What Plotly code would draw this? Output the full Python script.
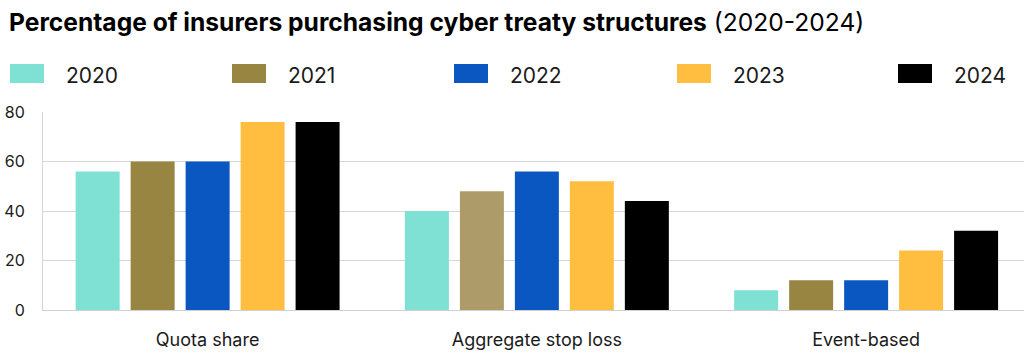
import plotly.graph_objects as go

# Chart data
categories = ["Quota share", "Aggregate stop loss", "Event-based"]
years = ["2020", "2021", "2022", "2023", "2024"]
values_2020 = [56, 40, 8]
values_2021 = [60, 48, 12]
values_2022 = [60, 56, 12]
values_2023 = [76, 52, 24]
values_2024 = [76, 44, 32]
y_ticks = [0, 20, 40, 60, 80]

series = [values_2020, values_2021, values_2022, values_2023, values_2024]
colors = ["#7FE1D3", "#978541", "#0A57C2", "#FFBE40", "#000000"]
# the 2021 aggregate stop loss bar is drawn in a lighter shade
bar_colors = [
    [colors[0]] * 3,
    [colors[1], "#AD9C6A", colors[1]],
    [colors[2]] * 3,
    [colors[3]] * 3,
    [colors[4]] * 3,
]

W, H = 1024, 352
L, R, T, B = 43, 0, 112, 42
plot_w = W - L - R
plot_h = H - T - B
FONT = "Inter, Roboto, sans-serif"
TEXT = "#1a1a1a"

fig = go.Figure()
for name, vals, cols in zip(years, series, bar_colors):
    fig.add_trace(go.Bar(x=categories, y=vals, name=name,
                         marker=dict(color=cols, line=dict(width=0)),
                         showlegend=False))

def px_x(px):
    return (px - L) / plot_w

def px_y(py):
    return (H - B - py) / plot_h

# Legend row: swatch + label for each year
shapes = []
annotations = []
legend_x = [10, 232, 454, 677, 898]
for name, col, lx in zip(years, colors, legend_x):
    shapes.append(dict(type="rect", xref="paper", yref="paper",
                       x0=px_x(lx), x1=px_x(lx + 34),
                       y0=px_y(83), y1=px_y(64),
                       fillcolor=col, line=dict(width=0)))
    annotations.append(dict(xref="paper", yref="paper",
                            x=px_x(lx + 54), y=px_y(75),
                            xanchor="left", yanchor="middle",
                            text=name, showarrow=False,
                            font=dict(family=FONT, size=21, color=TEXT)))

fig.update_layout(
    width=W, height=H,
    margin=dict(l=L, r=R, t=T, b=B),
    paper_bgcolor="white", plot_bgcolor="white",
    barmode="group", bargap=0.165, bargroupgap=0.2,
    title=dict(text="<b>Percentage of insurers purchasing cyber treaty structures</b> (2020-2024)",
               x=9 / W, xref="container", xanchor="left",
               y=1 - 22 / H, yref="container", yanchor="middle",
               font=dict(family=FONT, size=24.6, color="#000000")),
    xaxis=dict(range=[-0.5, -0.5 + plot_w / 329.25],
               showgrid=False, showline=True, linecolor="#d0d0d0", linewidth=1,
               ticks="", tickfont=dict(family=FONT, size=18, color=TEXT),
               ticklabelstandoff=13),
    yaxis=dict(range=[0, 80], tickvals=y_ticks,
               showgrid=True, gridcolor="#d6d6d6", gridwidth=1,
               showline=True, linecolor="#d6d6d6", linewidth=1,
               zeroline=False, ticks="",
               tickfont=dict(family=FONT, size=16, color=TEXT),
               ticklabelstandoff=14),
    shapes=shapes,
    annotations=annotations,
)

fig.write_html("out.html")
